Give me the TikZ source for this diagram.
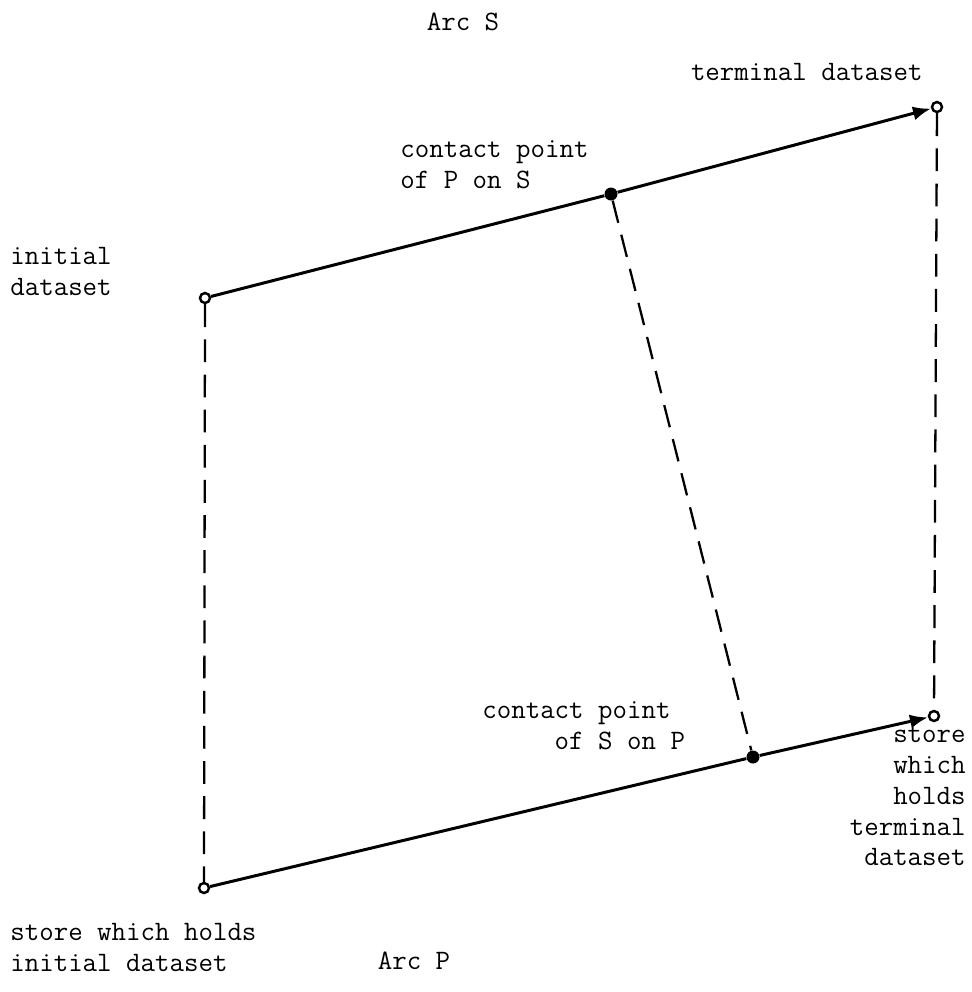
\documentclass[tikz,border=0pt]{standalone}
\usepackage{amsmath, amssymb}
\usepackage{tikz}
\usetikzlibrary{arrows.meta}

\begin{document}
\begin{tikzpicture}[x=0.02cm, y=-0.02cm,
    hollow/.style={circle, draw, line width=1.4pt, fill=white, inner sep=0pt, minimum size=0.2cm},
    dot/.style={circle, fill, inner sep=0pt, minimum size=0.26cm},
    lbl/.style={inner sep=0pt, font=\fontsize{16}{17.5}\ttfamily},
    arc/.style={line width=1.7pt},
    link/.style={line width=1.3pt, dash pattern=on 13pt off 7pt}]
        \useasboundingbox (0,0) rectangle (972,992);
        \node[hollow] (init) at (205,298) {};
        \node[hollow] (term) at (937,107) {};
        \node[hollow] (storeI) at (204,888) {};
        \node[hollow] (storeT) at (934,716) {};
        \node[dot] (cPS) at (611,194) {};
        \node[dot] (cSP) at (753,757) {};
        \draw[arc] (init) -- (cPS);
        \draw[arc, -{Latex[length=0.36cm, width=0.28cm]}] (cPS) -- (term);
        \draw[arc] (storeI) -- (cSP);
        \draw[arc, -{Latex[length=0.36cm, width=0.28cm]}] (cSP) -- (storeT);
        \draw[link] (init) -- (storeI);
        \draw[link] (term) -- (storeT);
        \draw[link] (cPS) -- (cSP);
        \node[lbl] (arcS) at (463,22) {Arc S};
        \node[lbl, anchor=east] (termL) at (923,72) {terminal dataset};
        \node[lbl, anchor=north west, align=left] (cPSL) at (400,140) {contact point\\of P on S};
        \node[lbl, anchor=north west, align=left] (initL) at (10,247) {initial\\dataset};
        \node[lbl, anchor=north west, align=left] (cSPL) at (482,701) {contact point\\\ \ \ \ \ of S on P};
        \node[lbl, anchor=north east, align=right] (storeTL) at (966,727) {store\\which\\holds\\terminal\\dataset};
        \node[lbl, anchor=north west, align=left] (storeIL) at (10,923) {store which holds\\initial dataset};
        \node[lbl] (arcP) at (414,961) {Arc P};
      \end{tikzpicture}
\end{document}
